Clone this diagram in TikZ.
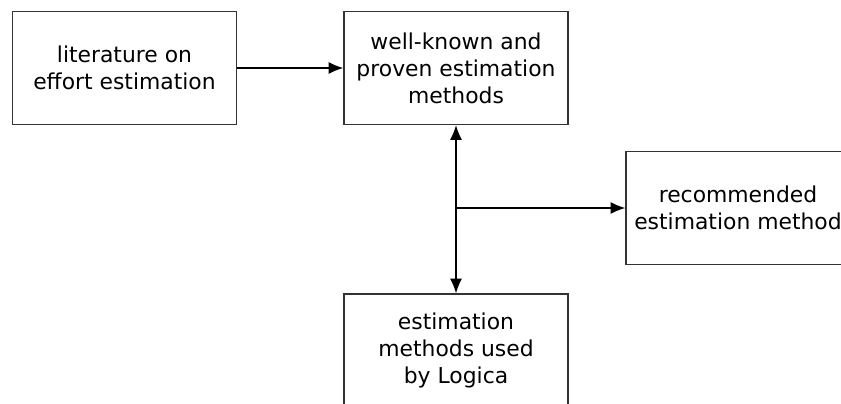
\documentclass[tikz,border=0pt]{standalone}
\usepackage{fontspec}
\setmainfont{DejaVu Sans}
\usetikzlibrary{arrows.meta}
\begin{document}
\begin{tikzpicture}[x=0.75pt,y=-0.75pt,
  box/.style={draw=black!80,line width=0.9pt,minimum width=168pt,minimum height=84.75pt,inner sep=0pt,align=center,
    font=\fontsize{16.4pt}{20.3pt}\selectfont},
  conn/.style={line width=1.15pt,-{Latex[length=11pt,width=9pt]}},
  dconn/.style={line width=1.15pt,{Latex[length=11pt,width=9pt]}-{Latex[length=11pt,width=9pt]}}]
\useasboundingbox (0,0) rectangle (841,403);
\clip (0,0) rectangle (841,403);
\node[box] (a) at (124.5,68) {literature on\\effort estimation};
\node[box] (b) at (456,68) {well-known and\\proven estimation\\methods};
\node[box] (c) at (738,208) {recommended\\estimation method};
\node[box] (d) at (456,350.5) {estimation\\methods used\\by Logica};
\coordinate (j) at (456,208);
\draw[conn] (a.east) -- (b.west);
\draw[dconn] (b.south) -- (d.north);
\draw[conn] (j) -- (c.west);
\end{tikzpicture}
\end{document}
